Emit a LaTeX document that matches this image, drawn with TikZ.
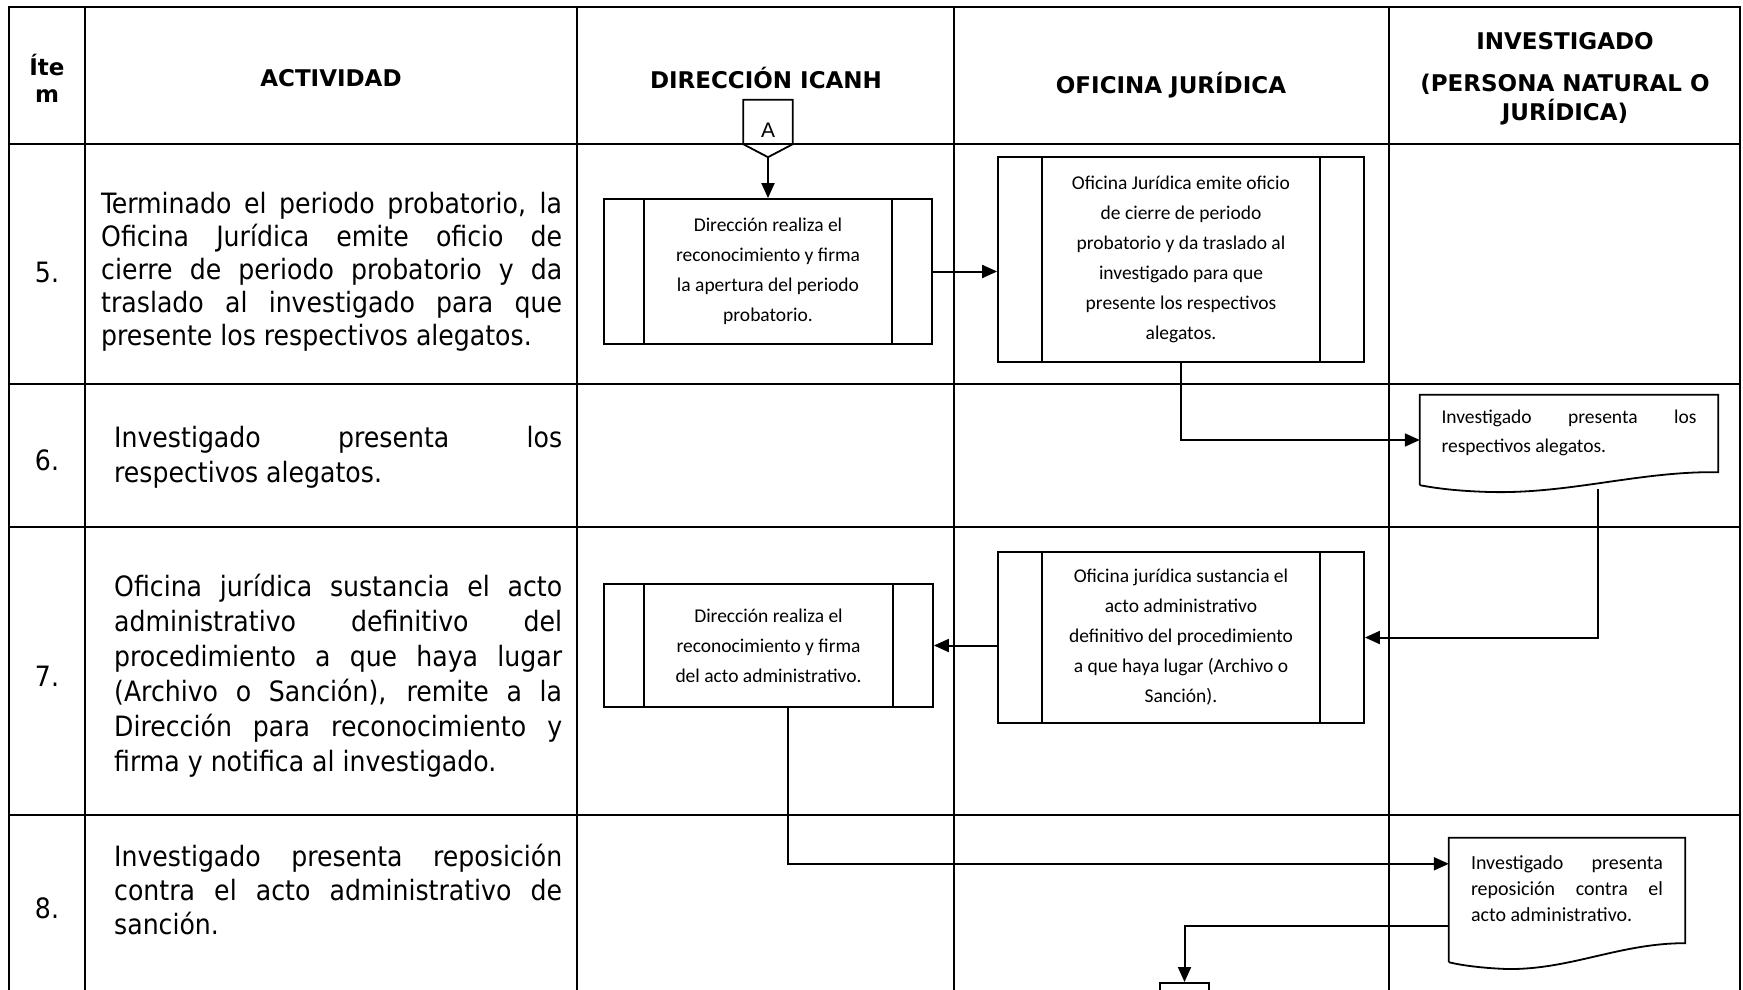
\documentclass[tikz,border=0pt]{standalone}
\usepackage{fontspec}
\setmainfont{Carlito}
\newfontfamily\hdrfont{DejaVu Sans}
\newfontfamily\actfont{DejaVu Sans Condensed}
\newfontfamily\confont{Liberation Sans}
\usetikzlibrary{arrows.meta,positioning}

\begin{document}
\begin{tikzpicture}[x=1pt, y=-1pt,
    rowline/.style={line width=2.8pt},
    colline/.style={line width=2pt},
    hdr/.style={align=center, font=\hdrfont\bfseries\fontsize{23}{29}\selectfont},
    item/.style={font=\actfont\fontsize{28}{35}\selectfont},
    act/.style={anchor=west, align=justify, inner sep=0pt, font=\actfont\fontsize{28}{35}\selectfont},
    proc/.style={draw, line width=1.8pt, align=center, font=\fontsize{19.5}{30}\selectfont,
      path picture={\draw[line width=1.8pt]
        ([xshift=#1]path picture bounding box.north west) -- ([xshift=#1]path picture bounding box.south west)
        ([xshift=-#1]path picture bounding box.north east) -- ([xshift=-#1]path picture bounding box.south east);}},
    proc/.default=40pt,
    doc/.style={line width=1.8pt},
    doctext/.style={align=justify, inner sep=0pt, font=\fontsize{19.5}{29}\selectfont},
    arr/.style={line width=2pt, -{Triangle[length=15pt,width=13pt]}}]
  \useasboundingbox (0,0) rectangle (1743,990);
  \clip (0,0) rectangle (1743,990);
  \draw[rowline] (9,990) -- (9,7) -- (1740,7) -- (1740,990);
  \draw[rowline] (9,144) -- (1740,144) (9,384) -- (1740,384) (9,527) -- (1740,527) (9,815) -- (1740,815);
  \draw[colline] (85,7) -- (85,990) (577,7) -- (577,990) (954,7) -- (954,990) (1389,7) -- (1389,990);
  \node[hdr, font=\hdrfont\bfseries\fontsize{23}{27}\selectfont] (hItem) at (47,78) {Íte\\m};
  \node[hdr] (hAct) at (331,78) {ACTIVIDAD};
  \node[hdr] (hDir) at (766,78) {DIRECCIÓN ICANH};
  \node[hdr] (hOfi) at (1171,85) {OFICINA JURÍDICA};
  \node[hdr] (hInv) at (1565,79) {INVESTIGADO\\[13pt](PERSONA NATURAL O\\JURÍDICA)};
  \node[item] (n5) at (47,272) {5.};
  \node[item] (n6) at (47,460) {6.};
  \node[item] (n7) at (47,676) {7.};
  \node[item] (n8) at (47,908) {8.};
  \node[act, text width=461pt, font=\actfont\fontsize{28}{33}\selectfont] (t5) at (101,272) {Terminado el periodo probatorio, la\linebreak Oficina Jurídica emite oficio de\linebreak cierre de periodo probatorio y da\linebreak traslado al investigado para que\linebreak presente los respectivos alegatos.};
  \node[act, text width=448pt] (t6) at (114,457) {Investigado presenta los\linebreak respectivos alegatos.};
  \node[act, text width=448pt] (t7) at (114,676) {Oficina jurídica sustancia el acto\linebreak administrativo definitivo del\linebreak procedimiento a que haya lugar\linebreak (Archivo o Sanción), remite a la\linebreak Dirección para reconocimiento y\linebreak firma y notifica al investigado.};
  \node[act, text width=448pt, font=\actfont\fontsize{28}{34}\selectfont] (t8) at (114,889) {Investigado presenta reposición\linebreak contra el acto administrativo de\linebreak sanción.};
  \node[minimum width=49pt, minimum height=44pt, inner sep=0pt, text height=31pt, text depth=0pt, font=\confont\fontsize{21}{21}\selectfont] (A) at (768,122) {A};
  \draw[doc] (A.north west) -- (A.north east) -- (A.south east) -- ([yshift=-13pt]A.south) -- (A.south west) -- cycle;
  \coordinate (Atip) at ([yshift=-13pt]A.south);
  \node[proc, minimum width=328pt, minimum height=145pt] (box1) at (768,271.5) {Dirección realiza el\\reconocimiento y firma\\la apertura del periodo\\probatorio.};
  \node[proc=44pt, minimum width=366pt, minimum height=205pt] (box2) at (1181,259.5) {Oficina Jurídica emite oficio\\de cierre de periodo\\probatorio y da traslado al\\investigado para que\\presente los respectivos\\alegatos.};
  \node[proc=44pt, minimum width=366pt, minimum height=171pt] (box3) at (1181,637.5) {Oficina jurídica sustancia el\\acto administrativo\\definitivo del procedimiento\\a que haya lugar (Archivo o\\Sanción).};
  \node[proc, minimum width=329pt, minimum height=123pt] (box4) at (768.5,645.5) {Dirección realiza el\\reconocimiento y firma\\del acto administrativo.};
  \node[minimum width=298pt, minimum height=90pt] (doc1) at (1569,440) {};
  \draw[doc] (doc1.south west) -- (doc1.north west) -- (doc1.north east) -- ([yshift=13pt]doc1.south east) .. controls (1640,471) and (1570,494) .. (1490,492) .. controls (1455,491) and (1435,488) .. (doc1.south west);
  \node[doctext, text width=255pt, anchor=north] (doc1t) at ([yshift=-15pt]doc1.north) {Investigado presenta los\linebreak respectivos alegatos.};
  \node[minimum width=236pt, minimum height=124pt] (doc2) at (1567,900) {};
  \draw[doc] (doc2.south west) -- (doc2.north west) -- (doc2.north east) -- ([yshift=19pt]doc2.south east) .. controls (1620,943) and (1570,970) .. (1507,969) .. controls (1480,968) and (1460,965) .. (doc2.south west);
  \node[doctext, font=\fontsize{20}{26}\selectfont, text width=192pt, anchor=north] (doc2t) at ([yshift=-18pt]doc2.north) {Investigado presenta\linebreak reposición contra el\linebreak acto administrativo.};
  \node[draw, line width=1.8pt, minimum width=49pt, minimum height=40pt, anchor=north] (B) at (1184.5,982) {};
  \coordinate (d1out) at (1598,489);
  \draw[arr] (Atip) -- (box1.north);
  \draw[arr] (box1.east) -- (box1.east -| box2.west);
  \draw[arr] (box2.south) |- (doc1.west);
  \draw[arr] (d1out) |- (box3.east);
  \draw[arr] (box3.west |- box4.east) -- (box4.east);
  \draw[arr] ([xshift=19pt]box4.south) |- ([yshift=-26pt]doc2.north west);
  \draw[arr] ([yshift=-88pt]doc2.north west) -| (B.north);
\end{tikzpicture}
\end{document}
